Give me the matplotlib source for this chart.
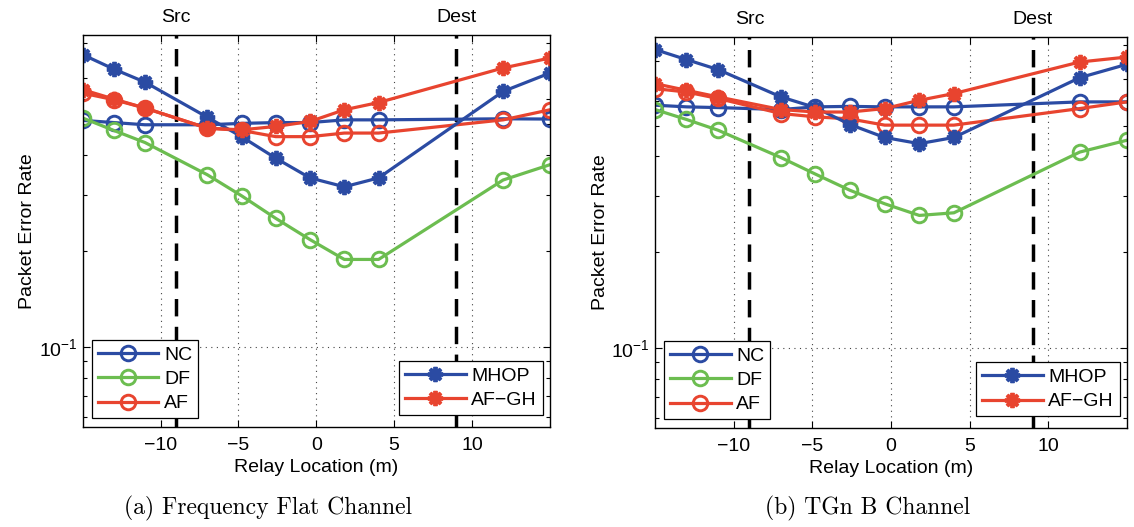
import matplotlib
matplotlib.use("Agg")
import matplotlib.pyplot as plt
from matplotlib.ticker import LogLocator, NullFormatter, FixedLocator, FixedFormatter

plt.rcParams['font.family'] = ['Liberation Sans', 'DejaVu Sans']
plt.rcParams['mathtext.default'] = 'regular'

# Relay positions (m)
relay_x = [-15, -13, -11, -7, -4.8, -2.6, -0.4, 1.8, 4, 12, 15]
src_x, dest_x = -9, 9

# (a) Frequency flat channel
nc_flat = [0.514, 0.506, 0.498, 0.498, 0.503, 0.506, 0.506, 0.516, 0.516, 0.520, 0.519]
df_flat = [0.523, 0.478, 0.438, 0.347, 0.298, 0.253, 0.217, 0.188, 0.188, 0.334, 0.373]
af_flat = [0.626, 0.597, 0.562, 0.486, 0.478, 0.457, 0.457, 0.469, 0.469, 0.516, 0.555]
mhop_flat = [0.827, 0.745, 0.678, 0.526, 0.457, 0.391, 0.339, 0.318, 0.339, 0.634, 0.724]
afgh_flat = [0.642, 0.600, 0.562, 0.486, 0.480, 0.492, 0.510, 0.555, 0.585, 0.751, 0.807]

# (b) TGn B channel
nc_tgn = [0.580, 0.573, 0.570, 0.562, 0.573, 0.575, 0.573, 0.573, 0.573, 0.594, 0.594]
df_tgn = [0.562, 0.523, 0.484, 0.397, 0.352, 0.313, 0.284, 0.261, 0.266, 0.413, 0.450]
af_tgn = [0.654, 0.638, 0.609, 0.546, 0.533, 0.525, 0.502, 0.502, 0.502, 0.566, 0.594]
mhop_tgn = [0.868, 0.807, 0.751, 0.616, 0.570, 0.504, 0.459, 0.439, 0.459, 0.708, 0.780]
afgh_tgn = [0.678, 0.646, 0.616, 0.562, 0.552, 0.552, 0.566, 0.601, 0.631, 0.793, 0.822]

captions = ["(a) Frequency Flat Channel", "(b) TGn B Channel"]
caption_x = [0.236, 0.765]
xticks = [-10, -5, 0, 5, 10]

BLUE = '#2B4BA3'
GREEN = '#6CBD50'
RED = '#E8442F'
FS = 14

fig = plt.figure(figsize=(11.34, 5.27), dpi=100)
ax_a = fig.add_axes([0.0729, 0.190, 0.412, 0.7435])
ax_b = fig.add_axes([0.5776, 0.188, 0.4162, 0.7425])

panels = [
    (ax_a, nc_flat, df_flat, af_flat, mhop_flat, afgh_flat, captions[0], caption_x[0]),
    (ax_b, nc_tgn, df_tgn, af_tgn, mhop_tgn, afgh_tgn, captions[1], caption_x[1]),
]

circ = dict(marker='o', markersize=10.5, markerfacecolor='none', markeredgewidth=2.1, lw=2.3)
star = dict(marker=(8, 2, 0), markersize=11, markeredgewidth=2.8, lw=2.3)

for ax, nc, df, af, mh, ag, cap, cx in panels:
    ax.set_yscale('log')
    ax.set_xlim(-15, 15)
    ax.set_ylim(0.056, 0.953)

    ax.grid(True, which='major', linestyle=(0, (1, 4)), color='#444444', lw=0.8)
    ax.axvline(src_x, color='black', lw=2.5, linestyle=(0, (5, 3)), zorder=1.5)
    ax.axvline(dest_x, color='black', lw=2.5, linestyle=(0, (5, 3)), zorder=1.5)

    h_nc, = ax.plot(relay_x, nc, color=BLUE, markeredgecolor=BLUE, label='NC', **circ)
    h_df, = ax.plot(relay_x, df, color=GREEN, markeredgecolor=GREEN, label='DF', **circ)
    h_af, = ax.plot(relay_x, af, color=RED, markeredgecolor=RED, label='AF', **circ)
    h_mh, = ax.plot(relay_x, mh, color=BLUE, markeredgecolor=BLUE, markerfacecolor=BLUE, label='MHOP', **star)
    h_ag, = ax.plot(relay_x, ag, color=RED, markeredgecolor=RED, markerfacecolor=RED, label='AF\u2212GH', **star)

    ax.set_xticks(xticks)
    ax.set_xticklabels([f"{t}".replace('-', '\u2212') for t in xticks])
    ax.yaxis.set_major_locator(FixedLocator([0.1]))
    ax.yaxis.set_major_formatter(FixedFormatter(['$10^{-1}$']))
    ax.yaxis.set_minor_locator(LogLocator(base=10, subs=range(2, 10), numticks=20))
    ax.yaxis.set_minor_formatter(NullFormatter())
    ax.tick_params(which='both', direction='in', top=True, right=True, labelsize=FS, width=0.8)
    ax.tick_params(which='major', length=5)
    ax.tick_params(which='minor', length=3)
    ax.tick_params(axis='x', pad=7)
    for s in ax.spines.values():
        s.set_linewidth(1.0)

    ax.set_xlabel('Relay Location (m)', fontsize=FS, labelpad=4)
    ax.set_ylabel('Packet Error Rate', fontsize=FS, labelpad=2)

    ax.text(src_x, 1.044, 'Src', transform=ax.get_xaxis_transform(), ha='center', va='center', fontsize=FS)
    ax.text(dest_x, 1.044, 'Dest', transform=ax.get_xaxis_transform(), ha='center', va='center', fontsize=FS)

    leg1 = ax.legend(handles=[h_nc, h_df, h_af], loc='lower left', bbox_to_anchor=(0.02, 0.022),
                     fontsize=FS, handlelength=3.1, handletextpad=0.3, borderpad=0.3, labelspacing=0.35,
                     fancybox=False, edgecolor='black', framealpha=1, borderaxespad=0)
    leg1.get_frame().set_linewidth(0.9)
    ax.add_artist(leg1)
    leg2 = ax.legend(handles=[h_mh, h_ag], loc='lower right', bbox_to_anchor=(0.985, 0.03),
                     fontsize=FS, handlelength=3.1, handletextpad=0.3, borderpad=0.3, labelspacing=0.35,
                     fancybox=False, edgecolor='black', framealpha=1, borderaxespad=0)
    leg2.get_frame().set_linewidth(0.9)

    fig.text(cx, 0.036, cap, ha='center', va='center',
             fontsize=17, family=['cmr10', 'DejaVu Serif'])

fig.savefig('out.png', dpi=100)
